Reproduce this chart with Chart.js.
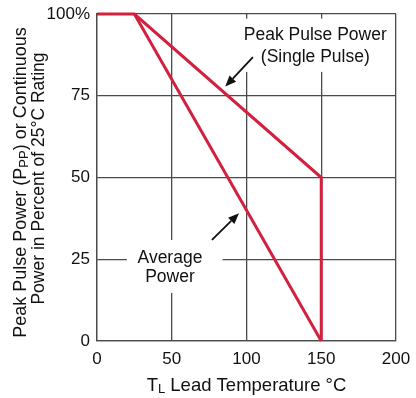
<!DOCTYPE html>
<html>
<head>
<meta charset="utf-8">
<script src="https://cdn.jsdelivr.net/npm/chart.js@4/dist/chart.umd.min.js"></script>
<style>
  html, body { margin: 0; padding: 0; background: #fff; }
  canvas { display: block; }
</style>
</head>
<body>
<canvas id="chart" width="416" height="398"></canvas>
<script>
// data
const xTicks = [0, 50, 100, 150, 200];
const yTicks = [0, 25, 50, 75, 100];
const peakTemp = [0, 25, 150, 150];
const peakRating = [100, 100, 50, 0];
const avgTemp = [25, 150];
const avgRating = [100, 0];

// annotation text + arrows (data coords)
const peakLabel = { x: 146, y: [93.6, 86.8], lines: ['Peak Pulse Power', '(Single Pulse)'],
                    box: [93.8, 98.6, 196, 82.3], arrow: [104.3, 86.8, 85.8, 77.8] };
const avgLabel = { x: 48.8, y: [25.4, 19.6], lines: ['Average', 'Power'],
                   box: [20, 30.9, 84, 14.7], arrow: [76.9, 30.9, 95, 39.1] };

const RED = '#d3203f';
const GRID = '#4a4a4a';
const FONT = '"Liberation Sans", Arial, sans-serif';

const toPts = (xs, ys) => xs.map((x, i) => ({ x: x, y: ys[i] }));

// white boxes behind labels (cut grid), then text and arrows
const labelsPlugin = {
    id: 'labels',
    beforeDatasetsDraw(chart) {
        const ctx = chart.ctx;
        const sx = chart.scales.x, sy = chart.scales.y;
        ctx.save();
        ctx.fillStyle = '#fff';
        [peakLabel, avgLabel].forEach(l => {
            const x1 = sx.getPixelForValue(l.box[0]), y1 = sy.getPixelForValue(l.box[1]);
            const x2 = sx.getPixelForValue(l.box[2]), y2 = sy.getPixelForValue(l.box[3]);
            ctx.fillRect(x1, y1, x2 - x1, y2 - y1);
        });
        ctx.restore();
    },
    afterDatasetsDraw(chart) {
        const ctx = chart.ctx;
        const sx = chart.scales.x, sy = chart.scales.y;
        ctx.save();
        ctx.fillStyle = '#111';
        ctx.font = '17.5px ' + FONT;
        ctx.textAlign = 'center';
        ctx.textBaseline = 'middle';
        [peakLabel, avgLabel].forEach(l => {
            l.lines.forEach((t, i) => ctx.fillText(t, sx.getPixelForValue(l.x), sy.getPixelForValue(l.y[i])));
            const x1 = sx.getPixelForValue(l.arrow[0]), y1 = sy.getPixelForValue(l.arrow[1]);
            const x2 = sx.getPixelForValue(l.arrow[2]), y2 = sy.getPixelForValue(l.arrow[3]);
            const a = Math.atan2(y2 - y1, x2 - x1);
            const hl = 11, hw = 4.5;
            ctx.strokeStyle = '#111';
            ctx.lineWidth = 1.8;
            ctx.beginPath();
            ctx.moveTo(x1, y1);
            ctx.lineTo(x2 - hl * Math.cos(a), y2 - hl * Math.sin(a));
            ctx.stroke();
            ctx.beginPath();
            ctx.moveTo(x2, y2);
            ctx.lineTo(x2 - hl * Math.cos(a) + hw * Math.sin(a), y2 - hl * Math.sin(a) - hw * Math.cos(a));
            ctx.lineTo(x2 - hl * Math.cos(a) - hw * Math.sin(a), y2 - hl * Math.sin(a) + hw * Math.cos(a));
            ctx.closePath();
            ctx.fill();
        });
        ctx.restore();
    },
    afterDraw(chart) {
        // axis titles with subscripts
        const ctx = chart.ctx;
        ctx.save();
        ctx.fillStyle = '#111';
        ctx.textBaseline = 'alphabetic';
        const drawRuns = (runs, cx, cy, size) => {
            const big = size + 'px ' + FONT, small = Math.round(size * 0.7) + 'px ' + FONT;
            let w = 0;
            runs.forEach(r => { ctx.font = r.sub ? small : big; w += ctx.measureText(r.t).width; });
            let x = cx - w / 2;
            runs.forEach(r => {
                ctx.font = r.sub ? small : big;
                ctx.textAlign = 'left';
                ctx.fillText(r.t, x, cy + (r.sub ? 2 : 0));
                x += ctx.measureText(r.t).width;
            });
        };
        drawRuns([{ t: 'T' }, { t: 'L', sub: true }, { t: ' Lead Temperature °C' }], 246.5, 391, 18.5);

        ctx.save();
        ctx.translate(26, 182.5);
        ctx.rotate(-Math.PI / 2);
        drawRuns([{ t: 'Peak Pulse Power (P' }, { t: 'PP', sub: true }, { t: ') or Continuous' }], 0, 0, 18);
        ctx.restore();
        ctx.save();
        ctx.translate(44, 178.5);
        ctx.rotate(-Math.PI / 2);
        drawRuns([{ t: 'Power in Percent of 25°C Rating' }], 0, 0, 17.5);
        ctx.restore();
        ctx.restore();
    }
};

new Chart(document.getElementById('chart'), {
    type: 'line',
    data: {
        datasets: [
            { label: 'Peak Pulse Power', data: toPts(peakTemp, peakRating) },
            { label: 'Average Power', data: toPts(avgTemp, avgRating) }
        ]
    },
    options: {
        responsive: false,
        devicePixelRatio: 1,
        animation: false,
        layout: { padding: { left: 0, top: 14, right: 20, bottom: 0 } },
        elements: {
            line: { borderColor: RED, borderWidth: 3, tension: 0, fill: false },
            point: { radius: 0 }
        },
        datasets: { line: { clip: false } },
        plugins: { legend: { display: false }, tooltip: { enabled: false } },
        scales: {
            x: {
                type: 'linear', min: 0, max: 200,
                afterBuildTicks: s => { s.ticks = xTicks.map(v => ({ value: v })); },
                afterFit: s => { s.height = 57; s.paddingLeft = 0; s.paddingRight = 0; },
                grid: { color: GRID, lineWidth: 1.3, drawTicks: false },
                border: { color: GRID, width: 1.3 },
                ticks: { color: '#111', padding: 8, font: { family: FONT, size: 17 }, maxRotation: 0 }
            },
            y: {
                type: 'linear', min: 0, max: 100,
                afterBuildTicks: s => { s.ticks = yTicks.map(v => ({ value: v })); },
                afterFit: s => { s.width = 97; s.paddingTop = 0; s.paddingBottom = 0; },
                grid: { color: GRID, lineWidth: 1.3, drawTicks: false },
                border: { color: GRID, width: 1.3 },
                ticks: { color: '#111', padding: 7, font: { family: FONT, size: 17 },
                         callback: v => v === 100 ? '100%' : v }
            }
        }
    },
    plugins: [labelsPlugin]
});
</script>
</body>
</html>
